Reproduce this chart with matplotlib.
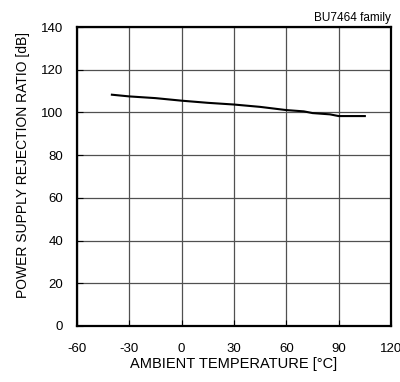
import matplotlib
matplotlib.use('Agg')
import matplotlib.pyplot as plt

plt.rcParams['font.family'] = ['Liberation Sans', 'DejaVu Sans']
plt.rcParams['axes.unicode_minus'] = False

temp = [-40, -30, -15, 0, 15, 30, 45, 60, 70, 75, 85, 90, 105]
psrr = [108.3, 107.5, 106.7, 105.5, 104.5, 103.7, 102.6, 101.1, 100.5, 99.7, 99.1, 98.3, 98.3]

xticks = [-60, -30, 0, 30, 60, 90, 120]
yticks = [0, 20, 40, 60, 80, 100, 120, 140]

fig = plt.figure(figsize=(4.0, 3.82), dpi=100)
ax = fig.add_axes([0.1925, 0.1466, 0.785, 0.7827])

ax.plot(temp, psrr, color='black', lw=1.5)

ax.set_xlim(-60, 120)
ax.set_ylim(0, 140)
ax.set_xticks(xticks)
ax.set_yticks(yticks)
ax.grid(True, color='#505050', lw=0.9)
ax.tick_params(direction='in', length=4, width=0.8, labelsize=9.5)
ax.tick_params(axis='x', pad=12)
ax.tick_params(axis='y', pad=10)
for s in ax.spines.values():
    s.set_linewidth(1.6)

ax.set_xlabel('AMBIENT TEMPERATURE [°C]', fontsize=10.5, labelpad=2)
ax.set_ylabel('POWER SUPPLY REJECTION RATIO [dB]', fontsize=10, labelpad=1)
ax.yaxis.set_label_coords(-0.15, 0.54)
ax.text(1.0, 1.01, 'BU7464 family', transform=ax.transAxes, ha='right', va='bottom', fontsize=8.5)

fig.savefig('out.png', dpi=100)
